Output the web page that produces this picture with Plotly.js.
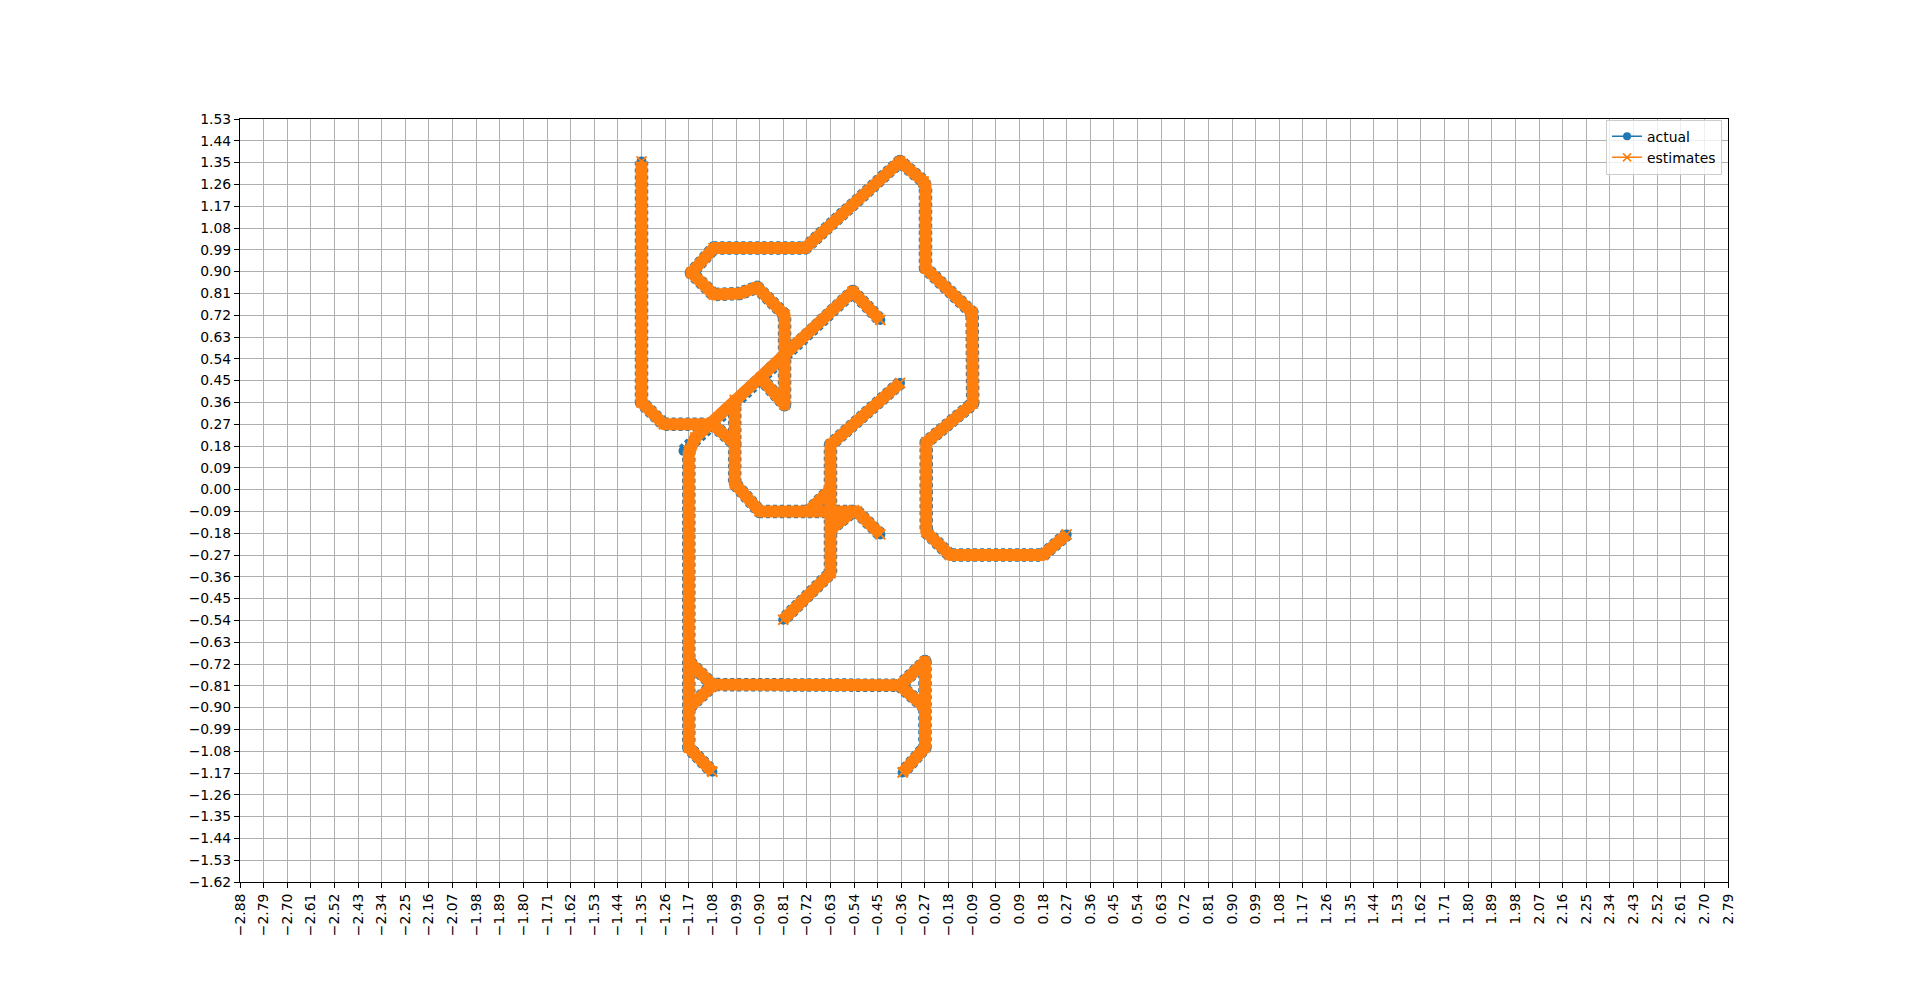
<!DOCTYPE html>
<html>
<head>
<meta charset="utf-8">
<script src="https://cdn.plot.ly/plotly-3.0.1.min.js"></script>
<style>
  html, body { margin: 0; padding: 0; background: #ffffff; }
  #chart { width: 1920px; height: 991px; }
  #chart path.js-line { stroke-linejoin: round !important; }
</style>
</head>
<body>
<div id="chart"></div>
<script>
// ---- data (path vertices; null = separate stroke) ----
const actualX = [
  -1.35, -1.35, -1.265, -1.08, -0.995, -0.995, -0.90, -0.53, -0.44, null,
  -0.995, -0.995, null,
  -1.19, -1.165, -1.145, -0.545, -0.44, null,
  -1.17, -1.17, -1.08, null,
  -1.165, -1.08, -0.365, -0.27, -0.27, -0.355, null,
  -1.165, -1.08, null,
  -0.365, -0.28, null,
  -0.365, -0.63, -0.63, -0.81, null,
  -0.715, -0.635, null,
  -0.63, -0.54, null,
  -0.895, -0.805, -0.805, -0.91, -0.975, -1.075, -1.16, -1.075, -0.727, -0.365, -0.275, -0.268, -0.268, -0.09, -0.088, -0.265, -0.265, -0.175, 0.18, 0.27
];
const actualY = [
  1.355, 0.36, 0.27, 0.27, 0.19, 0.025, -0.09, -0.09, -0.185, null,
  0.37, 0.19, null,
  0.16, 0.185, 0.215, 0.818, 0.70, null,
  0.16, -1.065, -1.165, null,
  -0.715, -0.805, -0.808, -0.71, -1.065, -1.168, null,
  -0.895, -0.81, null,
  -0.81, -0.89, null,
  0.44, 0.185, -0.345, -0.537, null,
  -0.09, -0.005, null,
  -0.165, -0.085, null,
  0.46, 0.35, 0.722, 0.835, 0.81, 0.805, 0.895, 0.997, 0.997, 1.355, 1.272, 1.25, 0.915, 0.73, 0.355, 0.195, -0.175, -0.27, -0.27, -0.185
];
const estimateX = [
  -1.35, -1.35, -1.265, -1.08, -0.995, -0.995, -0.90, -0.53, -0.44, null,
  -0.995, -0.995, null,
  -1.17, -1.145, -0.545, -0.44, null,
  -1.17, -1.17, -1.08, null,
  -1.165, -1.08, -0.365, -0.27, -0.27, -0.355, null,
  -1.165, -1.08, null,
  -0.365, -0.28, null,
  -0.365, -0.63, -0.63, -0.81, null,
  -0.715, -0.635, null,
  -0.63, -0.54, null,
  -0.895, -0.805, -0.805, -0.91, -0.975, -1.075, -1.16, -1.075, -0.727, -0.365, -0.275, -0.268, -0.268, -0.09, -0.088, -0.265, -0.265, -0.175, 0.18, 0.27
];
const estimateY = [
  1.355, 0.36, 0.27, 0.27, 0.19, 0.025, -0.09, -0.09, -0.185, null,
  0.37, 0.19, null,
  0.15, 0.215, 0.818, 0.70, null,
  0.16, -1.065, -1.165, null,
  -0.715, -0.805, -0.808, -0.71, -1.065, -1.168, null,
  -0.895, -0.81, null,
  -0.81, -0.89, null,
  0.44, 0.185, -0.345, -0.537, null,
  -0.09, -0.005, null,
  -0.165, -0.085, null,
  0.46, 0.35, 0.722, 0.835, 0.81, 0.805, 0.895, 0.997, 0.997, 1.355, 1.272, 1.25, 0.915, 0.73, 0.355, 0.195, -0.175, -0.27, -0.27, -0.185
];
const seriesNames = ["actual", "estimates"];
const xTickVals = [-2.88,-2.79,-2.70,-2.61,-2.52,-2.43,-2.34,-2.25,-2.16,-2.07,-1.98,-1.89,-1.80,-1.71,-1.62,-1.53,-1.44,-1.35,-1.26,-1.17,-1.08,-0.99,-0.90,-0.81,-0.72,-0.63,-0.54,-0.45,-0.36,-0.27,-0.18,-0.09,0.00,0.09,0.18,0.27,0.36,0.45,0.54,0.63,0.72,0.81,0.90,0.99,1.08,1.17,1.26,1.35,1.44,1.53,1.62,1.71,1.80,1.89,1.98,2.07,2.16,2.25,2.34,2.43,2.52,2.61,2.70,2.79];
const yTickVals = [-1.62,-1.53,-1.44,-1.35,-1.26,-1.17,-1.08,-0.99,-0.90,-0.81,-0.72,-0.63,-0.54,-0.45,-0.36,-0.27,-0.18,-0.09,0.00,0.09,0.18,0.27,0.36,0.45,0.54,0.63,0.72,0.81,0.90,0.99,1.08,1.17,1.26,1.35,1.44,1.53];

// ---- rendering ----
const fmt = v => v.toFixed(2).replace('-', '\u2212');
const BLUE = '#1f77b4', ORANGE = '#ff7f0e';
const FONT = 'DejaVu Sans, sans-serif';

const traces = [
  { x: actualX, y: actualY, type: 'scatter', mode: 'lines+markers', showlegend: false,
    line: { color: BLUE, width: 13.5, dash: '4px,3px' },
    marker: { symbol: 'circle', size: 10, color: BLUE } },
  { x: estimateX, y: estimateY, type: 'scatter', mode: 'lines+markers', showlegend: false,
    line: { color: ORANGE, width: 12 },
    marker: { symbol: 'x-thin', size: 10, color: ORANGE, line: { color: ORANGE, width: 2 } } },
  { x: [null], y: [null], type: 'scatter', mode: 'lines+markers', name: seriesNames[0],
    line: { color: BLUE, width: 1.5 }, marker: { symbol: 'circle', size: 8, color: BLUE } },
  { x: [null], y: [null], type: 'scatter', mode: 'lines+markers', name: seriesNames[1],
    line: { color: ORANGE, width: 1.5 },
    marker: { symbol: 'x-thin', size: 8, color: ORANGE, line: { color: ORANGE, width: 1.5 } } }
];

const axisCommon = {
  showgrid: true, gridcolor: '#b0b0b0', gridwidth: 1, zeroline: false,
  showline: true, linecolor: '#000000', linewidth: 1, mirror: true,
  ticks: 'outside', ticklen: 5, tickwidth: 1, tickcolor: '#000000',
  tickfont: { family: FONT, size: 13.9, color: '#000000' },
  tickmode: 'array', automargin: false
};

const layout = {
  width: 1920, height: 991,
  margin: { l: 240, r: 192, t: 119, b: 109, pad: 0 },
  paper_bgcolor: '#ffffff', plot_bgcolor: '#ffffff',
  font: { family: FONT, size: 13.9, color: '#000000' },
  xaxis: Object.assign({}, axisCommon, {
    range: [-2.88, 2.79], tickvals: xTickVals, ticktext: xTickVals.map(fmt), tickangle: -90
  }),
  yaxis: Object.assign({}, axisCommon, {
    range: [-1.62, 1.53], tickvals: yTickVals, ticktext: yTickVals.map(fmt)
  }),
  showlegend: true,
  legend: {
    x: 0.996, y: 0.999, xanchor: 'right', yanchor: 'top',
    bgcolor: 'rgba(255,255,255,0.8)', bordercolor: '#cccccc', borderwidth: 1,
    font: { family: FONT, size: 13.9, color: '#000000' }, itemwidth: 30, tracegroupgap: 0
  }
};

Plotly.newPlot('chart', traces, layout, { staticPlot: true, displayModeBar: false });
</script>
</body>
</html>
